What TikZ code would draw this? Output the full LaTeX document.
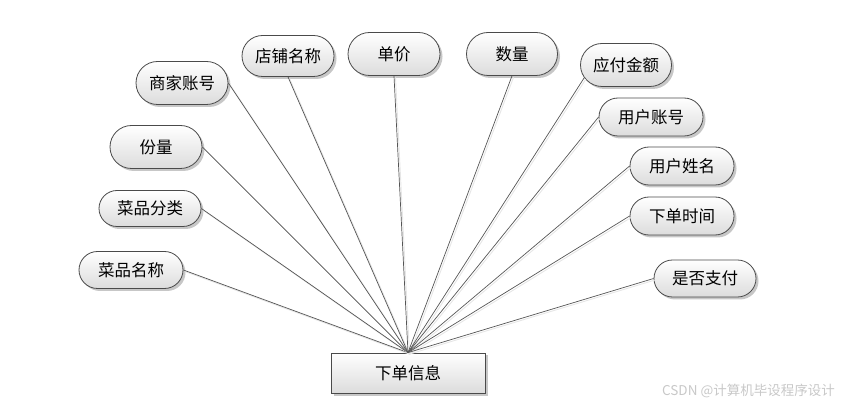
\documentclass[tikz,border=0pt]{standalone}
\usepackage{fontspec}
\setmainfont{Noto Sans CJK SC}
\usetikzlibrary{shapes.misc,shadows}
\definecolor{ErLine}{HTML}{555555}
\definecolor{ErEdge}{HTML}{4A4A4A}
\definecolor{ErFillLow}{HTML}{DCDCDC}
\definecolor{ErGhost}{HTML}{E6E6E6}
\definecolor{ErMark}{HTML}{C8C8C8}
\tikzset{
  er attr/.style={
    rounded rectangle,
    draw=ErEdge,
    line width=0.8pt,
    top color=white,
    bottom color=ErFillLow,
    minimum width=96pt,
    minimum height=43pt,
    inner sep=2pt,
    font=\fontsize{16.5}{18}\selectfont,
    drop shadow={shadow xshift=2.5pt,shadow yshift=-2.5pt,opacity=0.22,fill=black}
  },
  er attr wide/.style={
    er attr,
    minimum width=108pt,
    minimum height=37pt
  },
  er entity/.style={
    rectangle,
    draw=ErEdge,
    line width=0.8pt,
    top color=white,
    bottom color=ErFillLow,
    minimum width=154pt,
    minimum height=40pt,
    inner sep=2pt,
    font=\fontsize{16.5}{18}\selectfont,
    drop shadow={shadow xshift=2.5pt,shadow yshift=-2.5pt,opacity=0.22,fill=black}
  },
  er link/.style={
    draw=ErLine,line width=0.7pt,
    preaction={draw=ErGhost,line width=0.9pt,transform canvas={xshift=1.5pt,yshift=-1.5pt}}
  },
  er mark/.style={text=ErMark,inner sep=0pt,font=\fontsize{13.5}{15}\selectfont}
}

\begin{document}
\begin{tikzpicture}[x=1pt,y=-1pt]
  \useasboundingbox (0,0) rectangle (847,406);

  \node[er entity] (order) at (408,373) {下单信息};

  \node[er attr wide] (dishname) at (131,270) {菜品名称};
  \node[er attr wide,minimum width=106pt,minimum height=36pt] (dishtype) at (150,208.5) {菜品分类};
  \node[er attr] (portion) at (156,147) {份量};
  \node[er attr] (shopacct) at (182,83) {商家账号};
  \node[er attr,minimum height=41pt] (shopname) at (288,56) {店铺名称};
  \node[er attr] (price) at (394,54) {单价};
  \node[er attr,minimum width=95pt] (amount) at (512,54) {数量};
  \node[er attr,minimum width=95pt] (payable) at (626,65) {应付金额};
  \node[er attr wide,minimum height=38pt] (useracct) at (651,117) {用户账号};
  \node[er attr wide,minimum height=38pt] (username) at (682,166) {用户姓名};
  \node[er attr wide,minimum height=38pt] (ordertime) at (682,216) {下单时间};
  \node[er attr wide,minimum width=106pt] (paid) at (705,278.5) {是否支付};

  % attribute connectors
  \foreach \attr in {dishname,dishtype,portion,shopacct}
    \draw[er link] (\attr.east) -- (order.north);
  \foreach \attr in {shopname,price,amount}
    \draw[er link] (\attr.south) -- (order.north);
  \draw[er link] (payable.197) -- (order.north);
  \foreach \attr in {useracct,username,ordertime,paid}
    \draw[er link] (\attr.west) -- (order.north);

  \node[er mark,anchor=east] (mark) at (835,391) {CSDN @计算机毕设程序设计};
\end{tikzpicture}
\end{document}
